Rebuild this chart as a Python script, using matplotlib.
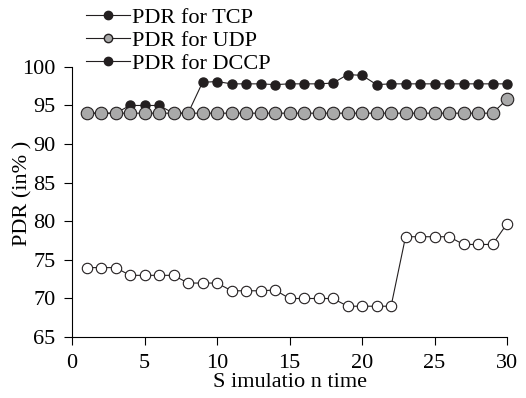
import matplotlib
matplotlib.use("Agg")
import matplotlib.pyplot as plt
from matplotlib.lines import Line2D

plt.rcParams["font.family"] = ["Liberation Serif", "DejaVu Serif"]

time = list(range(1, 31))
pdr_tcp = [94, 94, 94, 95, 95, 95, 94, 94, 98, 98.1, 97.8, 97.8, 97.8, 97.7, 97.8,
           97.8, 97.8, 97.9, 99, 98.9, 97.7, 97.8, 97.8, 97.8, 97.8, 97.8, 97.8, 97.8, 97.8, 97.8]
pdr_udp = [94] * 29 + [95.8]
pdr_dccp = [74, 74, 74, 73, 73, 73, 73, 72, 72, 72, 71, 71, 71, 71.1, 70,
            70, 70, 70, 69, 69, 69, 69, 78, 78, 78, 78, 77, 77, 77, 79.7]
labels = ["PDR for TCP", "PDR for UDP", "PDR for DCCP"]

black = "#231f20"
grey = "#a9a9a9"

fig = plt.figure(figsize=(5.26, 3.98), dpi=100)
ax = fig.add_axes([0.137, 0.153, 0.827, 0.679])

ax.plot(time, pdr_tcp, "-o", color=black, lw=0.8, ms=6.5,
        markerfacecolor=black, markeredgecolor=black, zorder=2, clip_on=False)
ax.plot(time, pdr_udp, "-o", color=black, lw=0.8, ms=9,
        markerfacecolor=grey, markeredgecolor=black, markeredgewidth=0.8, zorder=3, clip_on=False)
ax.plot(time, pdr_dccp, "-o", color=black, lw=0.8, ms=7.5,
        markerfacecolor="white", markeredgecolor=black, markeredgewidth=0.8, zorder=3, clip_on=False)

ax.set_xlim(0, 30)
ax.set_ylim(65, 100)
ax.set_xticks(range(0, 31, 5))
ax.set_yticks(range(65, 101, 5))
ax.spines["top"].set_visible(False)
ax.spines["right"].set_visible(False)
ax.tick_params(direction="out", length=6, width=0.8, labelsize=16, pad=6)
ax.set_xlabel("S imulatio n time", fontsize=16, labelpad=0)
ax.set_ylabel("PDR (in% )", fontsize=16)
ax.yaxis.set_label_coords(-0.092, 0.533)

handles = [
    Line2D([], [], color=black, lw=0.8, marker="o", ms=6, markerfacecolor=black),
    Line2D([], [], color=black, lw=0.8, marker="o", ms=6, markerfacecolor=grey),
    Line2D([], [], color=black, lw=0.8, marker="o", ms=6, markerfacecolor=black),
]
fig.legend(handles, labels, loc="upper left", bbox_to_anchor=(0.133, 1.02),
           frameon=False, fontsize=16, handlelength=2.0, handletextpad=0.1,
           labelspacing=0.1, borderpad=0.2)

fig.savefig("out.png", dpi=100)
